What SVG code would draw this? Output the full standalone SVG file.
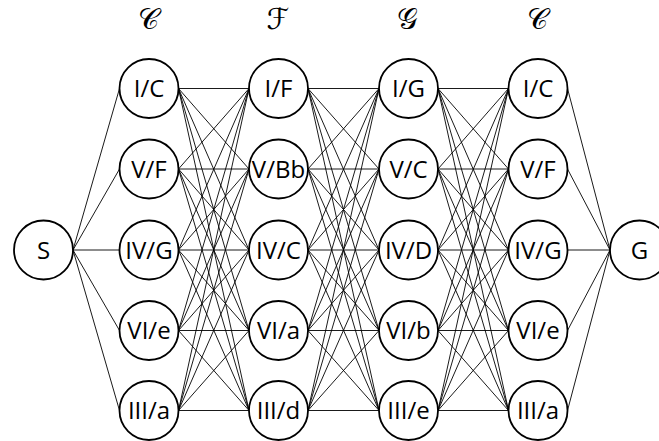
<svg xmlns="http://www.w3.org/2000/svg" width="659" height="441" viewBox="0 0 659 441">
<style>
.n circle{fill:#fff;stroke:#000;stroke-width:1.8}
.n text{font-family:"Open Sans","Liberation Sans",sans-serif;font-size:24px;text-anchor:middle;fill:#000}
.e line{stroke:#000;stroke-width:0.9}
.h{font-family:"DejaVu Serif","DejaVu Sans","Liberation Serif",serif;font-size:29px;text-anchor:middle;fill:#000}
</style>
<rect width="659" height="441" fill="#fff"/>
<g id="headers">
<text class="h" x="148" y="29">𝒞</text>
<text class="h" x="278" y="29">ℱ</text>
<text class="h" x="407" y="29">𝒢</text>
<text class="h" x="537" y="29">𝒞</text>
</g>
<g id="connectors" class="e">
<line x1="73" y1="250" x2="119.5" y2="88.5"/><line x1="73" y1="250" x2="119.5" y2="169"/><line x1="73" y1="250" x2="119.5" y2="250"/><line x1="73" y1="250" x2="119.5" y2="330.5"/><line x1="73" y1="250" x2="119.5" y2="410.5"/>
<line x1="178.5" y1="88.5" x2="249" y2="88.5"/><line x1="178.5" y1="88.5" x2="249" y2="169"/><line x1="178.5" y1="88.5" x2="249" y2="250"/><line x1="178.5" y1="88.5" x2="249" y2="330.5"/><line x1="178.5" y1="88.5" x2="249" y2="410.5"/>
<line x1="178.5" y1="169" x2="249" y2="88.5"/><line x1="178.5" y1="169" x2="249" y2="169"/><line x1="178.5" y1="169" x2="249" y2="250"/><line x1="178.5" y1="169" x2="249" y2="330.5"/><line x1="178.5" y1="169" x2="249" y2="410.5"/>
<line x1="178.5" y1="250" x2="249" y2="88.5"/><line x1="178.5" y1="250" x2="249" y2="169"/><line x1="178.5" y1="250" x2="249" y2="250"/><line x1="178.5" y1="250" x2="249" y2="330.5"/><line x1="178.5" y1="250" x2="249" y2="410.5"/>
<line x1="178.5" y1="330.5" x2="249" y2="88.5"/><line x1="178.5" y1="330.5" x2="249" y2="169"/><line x1="178.5" y1="330.5" x2="249" y2="250"/><line x1="178.5" y1="330.5" x2="249" y2="330.5"/><line x1="178.5" y1="330.5" x2="249" y2="410.5"/>
<line x1="178.5" y1="410.5" x2="249" y2="88.5"/><line x1="178.5" y1="410.5" x2="249" y2="169"/><line x1="178.5" y1="410.5" x2="249" y2="250"/><line x1="178.5" y1="410.5" x2="249" y2="330.5"/><line x1="178.5" y1="410.5" x2="249" y2="410.5"/>
<line x1="308" y1="88.5" x2="379" y2="88.5"/><line x1="308" y1="88.5" x2="379" y2="169"/><line x1="308" y1="88.5" x2="379" y2="250"/><line x1="308" y1="88.5" x2="379" y2="330.5"/><line x1="308" y1="88.5" x2="379" y2="410.5"/>
<line x1="308" y1="169" x2="379" y2="88.5"/><line x1="308" y1="169" x2="379" y2="169"/><line x1="308" y1="169" x2="379" y2="250"/><line x1="308" y1="169" x2="379" y2="330.5"/><line x1="308" y1="169" x2="379" y2="410.5"/>
<line x1="308" y1="250" x2="379" y2="88.5"/><line x1="308" y1="250" x2="379" y2="169"/><line x1="308" y1="250" x2="379" y2="250"/><line x1="308" y1="250" x2="379" y2="330.5"/><line x1="308" y1="250" x2="379" y2="410.5"/>
<line x1="308" y1="330.5" x2="379" y2="88.5"/><line x1="308" y1="330.5" x2="379" y2="169"/><line x1="308" y1="330.5" x2="379" y2="250"/><line x1="308" y1="330.5" x2="379" y2="330.5"/><line x1="308" y1="330.5" x2="379" y2="410.5"/>
<line x1="308" y1="410.5" x2="379" y2="88.5"/><line x1="308" y1="410.5" x2="379" y2="169"/><line x1="308" y1="410.5" x2="379" y2="250"/><line x1="308" y1="410.5" x2="379" y2="330.5"/><line x1="308" y1="410.5" x2="379" y2="410.5"/>
<line x1="438" y1="88.5" x2="508.5" y2="88.5"/><line x1="438" y1="88.5" x2="508.5" y2="169"/><line x1="438" y1="88.5" x2="508.5" y2="250"/><line x1="438" y1="88.5" x2="508.5" y2="330.5"/><line x1="438" y1="88.5" x2="508.5" y2="410.5"/>
<line x1="438" y1="169" x2="508.5" y2="88.5"/><line x1="438" y1="169" x2="508.5" y2="169"/><line x1="438" y1="169" x2="508.5" y2="250"/><line x1="438" y1="169" x2="508.5" y2="330.5"/><line x1="438" y1="169" x2="508.5" y2="410.5"/>
<line x1="438" y1="250" x2="508.5" y2="88.5"/><line x1="438" y1="250" x2="508.5" y2="169"/><line x1="438" y1="250" x2="508.5" y2="250"/><line x1="438" y1="250" x2="508.5" y2="330.5"/><line x1="438" y1="250" x2="508.5" y2="410.5"/>
<line x1="438" y1="330.5" x2="508.5" y2="88.5"/><line x1="438" y1="330.5" x2="508.5" y2="169"/><line x1="438" y1="330.5" x2="508.5" y2="250"/><line x1="438" y1="330.5" x2="508.5" y2="330.5"/><line x1="438" y1="330.5" x2="508.5" y2="410.5"/>
<line x1="438" y1="410.5" x2="508.5" y2="88.5"/><line x1="438" y1="410.5" x2="508.5" y2="169"/><line x1="438" y1="410.5" x2="508.5" y2="250"/><line x1="438" y1="410.5" x2="508.5" y2="330.5"/><line x1="438" y1="410.5" x2="508.5" y2="410.5"/>
<line x1="567.5" y1="88.5" x2="610" y2="250"/><line x1="567.5" y1="169" x2="610" y2="250"/><line x1="567.5" y1="250" x2="610" y2="250"/><line x1="567.5" y1="330.5" x2="610" y2="250"/><line x1="567.5" y1="410.5" x2="610" y2="250"/>
</g>
<g id="S" class="n"><circle cx="43.5" cy="250" r="29.5"/><text x="43.5" y="258.5">S</text></g>
<g id="G" class="n"><circle cx="639.5" cy="250" r="29.5"/><text x="639.5" y="258.5">G</text></g>
<g id="c1r1" class="n"><circle cx="149" cy="88.5" r="29.5"/><text x="149" y="97">I/C</text></g>
<g id="c1r2" class="n"><circle cx="149" cy="169" r="29.5"/><text x="149" y="177.5">V/F</text></g>
<g id="c1r3" class="n"><circle cx="149" cy="250" r="29.5"/><text x="149" y="258.5">IV/G</text></g>
<g id="c1r4" class="n"><circle cx="149" cy="330.5" r="29.5"/><text x="149" y="339">VI/e</text></g>
<g id="c1r5" class="n"><circle cx="149" cy="410.5" r="29.5"/><text x="149" y="419">III/a</text></g>
<g id="c2r1" class="n"><circle cx="278.5" cy="88.5" r="29.5"/><text x="278.5" y="97">I/F</text></g>
<g id="c2r2" class="n"><circle cx="278.5" cy="169" r="29.5"/><text x="278.5" y="177.5">V/Bb</text></g>
<g id="c2r3" class="n"><circle cx="278.5" cy="250" r="29.5"/><text x="278.5" y="258.5">IV/C</text></g>
<g id="c2r4" class="n"><circle cx="278.5" cy="330.5" r="29.5"/><text x="278.5" y="339">VI/a</text></g>
<g id="c2r5" class="n"><circle cx="278.5" cy="410.5" r="29.5"/><text x="278.5" y="419">III/d</text></g>
<g id="c3r1" class="n"><circle cx="408.5" cy="88.5" r="29.5"/><text x="408.5" y="97">I/G</text></g>
<g id="c3r2" class="n"><circle cx="408.5" cy="169" r="29.5"/><text x="408.5" y="177.5">V/C</text></g>
<g id="c3r3" class="n"><circle cx="408.5" cy="250" r="29.5"/><text x="408.5" y="258.5">IV/D</text></g>
<g id="c3r4" class="n"><circle cx="408.5" cy="330.5" r="29.5"/><text x="408.5" y="339">VI/b</text></g>
<g id="c3r5" class="n"><circle cx="408.5" cy="410.5" r="29.5"/><text x="408.5" y="419">III/e</text></g>
<g id="c4r1" class="n"><circle cx="538" cy="88.5" r="29.5"/><text x="538" y="97">I/C</text></g>
<g id="c4r2" class="n"><circle cx="538" cy="169" r="29.5"/><text x="538" y="177.5">V/F</text></g>
<g id="c4r3" class="n"><circle cx="538" cy="250" r="29.5"/><text x="538" y="258.5">IV/G</text></g>
<g id="c4r4" class="n"><circle cx="538" cy="330.5" r="29.5"/><text x="538" y="339">VI/e</text></g>
<g id="c4r5" class="n"><circle cx="538" cy="410.5" r="29.5"/><text x="538" y="419">III/a</text></g>
</svg>
